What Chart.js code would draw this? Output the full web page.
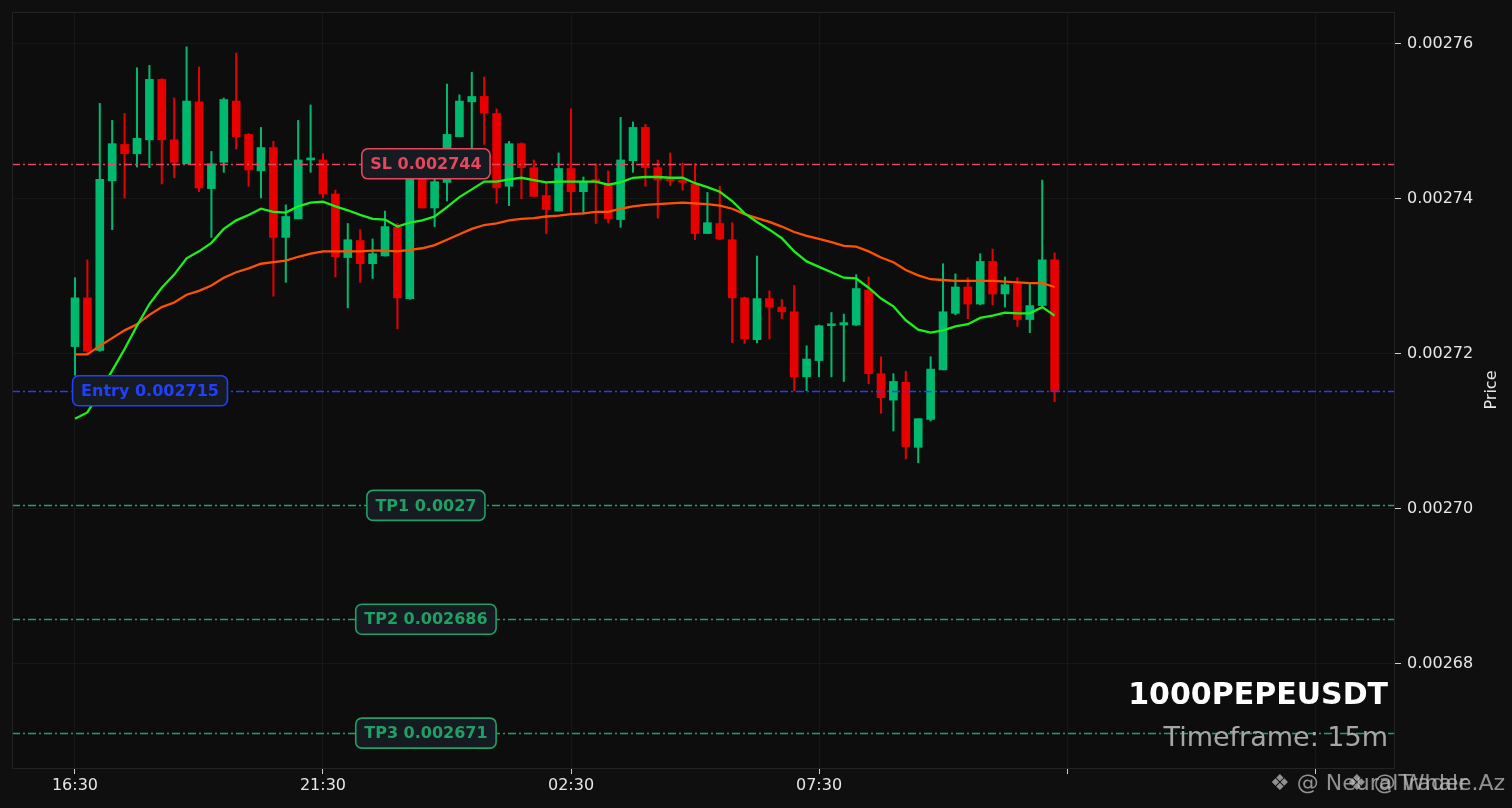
<!DOCTYPE html>
<html><head><meta charset="utf-8">
<script src="https://cdn.jsdelivr.net/npm/chart.js@4.4.0/dist/chart.umd.min.js"></script>
<style>html,body{margin:0;padding:0;background:#0f0f0f;overflow:hidden}#wrap{width:1512px;height:808px;position:relative}</style>
</head><body><div id="wrap"><canvas id="c" width="1512" height="808"></canvas></div>
<script>
// ---------------- DATA ----------------
const openP = [
0.0027209,0.0027272,0.0027204,0.0027423,0.0027470,0.0027458,0.0027476,0.0027554,0.0027476,0.0027445,
0.0027525,0.0027413,0.0027447,0.0027526,0.0027483,0.0027436,0.0027466,0.0027350,0.0027374,0.0027450,
0.0027450,0.0027406,0.0027324,0.0027346,0.0027316,0.0027326,0.0027363,0.0027271,0.0027435,0.0027388,
0.0027421,0.0027480,0.0027525,0.0027532,0.0027510,0.0027416,0.0027471,0.0027440,0.0027404,0.0027384,
0.0027439,0.0027409,0.0027423,0.0027419,0.0027373,0.0027449,0.0027492,0.0027440,0.0027424,0.0027423,
0.0027419,0.0027355,0.0027368,0.0027347,0.0027272,0.0027218,0.0027271,0.0027260,0.0027254,0.0027170,
0.0027191,0.0027236,0.0027237,0.0027237,0.0027282,0.0027174,0.0027140,0.0027163,0.0027079,0.0027115,
0.0027179,0.0027252,0.0027286,0.0027264,0.0027319,0.0027277,0.0027290,0.0027244,0.0027262,0.0027321];
const highP = [
0.0027298,0.0027321,0.0027523,0.0027501,0.0027510,0.0027569,0.0027572,0.0027555,0.0027530,0.0027596,
0.0027570,0.0027461,0.0027530,0.0027588,0.0027484,0.0027492,0.0027474,0.0027392,0.0027501,0.0027521,
0.0027458,0.0027411,0.0027368,0.0027360,0.0027348,0.0027384,0.0027368,0.0027443,0.0027450,0.0027430,
0.0027548,0.0027534,0.0027563,0.0027557,0.0027516,0.0027474,0.0027472,0.0027450,0.0027421,0.0027459,
0.0027516,0.0027428,0.0027445,0.0027436,0.0027505,0.0027499,0.0027496,0.0027450,0.0027459,0.0027446,
0.0027445,0.0027408,0.0027416,0.0027369,0.0027273,0.0027326,0.0027281,0.0027270,0.0027288,0.0027210,
0.0027237,0.0027253,0.0027251,0.0027302,0.0027299,0.0027196,0.0027174,0.0027177,0.0027116,0.0027196,
0.0027316,0.0027303,0.0027298,0.0027329,0.0027335,0.0027299,0.0027298,0.0027290,0.0027424,0.0027330];
const lowP = [
0.0027172,0.0027201,0.0027203,0.0027360,0.0027401,0.0027441,0.0027440,0.0027419,0.0027427,0.0027445,
0.0027409,0.0027350,0.0027434,0.0027464,0.0027416,0.0027401,0.0027274,0.0027292,0.0027374,0.0027434,
0.0027401,0.0027299,0.0027259,0.0027292,0.0027297,0.0027326,0.0027232,0.0027270,0.0027388,0.0027364,
0.0027397,0.0027480,0.0027464,0.0027470,0.0027394,0.0027391,0.0027400,0.0027403,0.0027355,0.0027384,
0.0027380,0.0027380,0.0027368,0.0027369,0.0027363,0.0027434,0.0027416,0.0027375,0.0027417,0.0027411,
0.0027347,0.0027355,0.0027347,0.0027214,0.0027213,0.0027214,0.0027219,0.0027245,0.0027152,0.0027152,
0.0027170,0.0027170,0.0027164,0.0027236,0.0027161,0.0027123,0.0027100,0.0027064,0.0027059,0.0027113,
0.0027179,0.0027250,0.0027245,0.0027263,0.0027263,0.0027260,0.0027235,0.0027227,0.0027262,0.0027138];
const closeP = [
0.0027272,0.0027203,0.0027425,0.0027471,0.0027458,0.0027478,0.0027554,0.0027476,0.0027447,0.0027526,
0.0027414,0.0027445,0.0027528,0.0027480,0.0027437,0.0027466,0.0027350,0.0027377,0.0027450,0.0027451,
0.0027406,0.0027325,0.0027347,0.0027316,0.0027329,0.0027364,0.0027272,0.0027430,0.0027388,0.0027422,
0.0027483,0.0027526,0.0027532,0.0027511,0.0027414,0.0027471,0.0027440,0.0027403,0.0027386,0.0027439,
0.0027409,0.0027422,0.0027422,0.0027374,0.0027450,0.0027492,0.0027440,0.0027424,0.0027423,0.0027421,
0.0027355,0.0027369,0.0027348,0.0027272,0.0027219,0.0027271,0.0027260,0.0027254,0.0027170,0.0027193,
0.0027236,0.0027238,0.0027240,0.0027284,0.0027174,0.0027143,0.0027164,0.0027080,0.0027116,0.0027180,
0.0027254,0.0027286,0.0027264,0.0027319,0.0027277,0.0027289,0.0027244,0.0027262,0.0027321,0.0027151];
const emaFast = [
0.0027116,0.0027124,0.0027150,0.0027178,0.0027206,0.0027236,0.0027264,0.0027285,0.0027302,0.0027323,
0.0027332,0.0027343,0.0027361,0.0027372,0.0027379,0.0027387,0.0027383,0.0027382,0.0027390,0.0027395,
0.0027396,0.0027390,0.0027385,0.0027379,0.0027374,0.0027373,0.0027364,0.0027369,0.0027372,0.0027377,
0.0027389,0.0027402,0.0027412,0.0027422,0.0027422,0.0027425,0.0027427,0.0027424,0.0027421,0.0027422,
0.0027422,0.0027422,0.0027422,0.0027418,0.0027421,0.0027427,0.0027428,0.0027428,0.0027427,0.0027427,
0.0027420,0.0027415,0.0027409,0.0027397,0.0027381,0.0027370,0.0027360,0.0027349,0.0027332,0.0027319,
0.0027312,0.0027305,0.0027298,0.0027297,0.0027285,0.0027271,0.0027261,0.0027243,0.0027231,0.0027227,
0.0027230,0.0027235,0.0027238,0.0027246,0.0027249,0.0027253,0.0027252,0.0027252,0.0027260,0.0027249];
const emaSlow = [
0.0027199,0.0027199,0.0027210,0.0027220,0.0027230,0.0027238,0.0027250,0.0027260,0.0027266,0.0027276,
0.0027281,0.0027288,0.0027298,0.0027305,0.0027310,0.0027316,0.0027318,0.0027320,0.0027325,0.0027329,
0.0027332,0.0027332,0.0027332,0.0027332,0.0027333,0.0027333,0.0027332,0.0027334,0.0027336,0.0027340,
0.0027347,0.0027354,0.0027361,0.0027366,0.0027368,0.0027372,0.0027374,0.0027375,0.0027377,0.0027378,
0.0027380,0.0027381,0.0027383,0.0027383,0.0027387,0.0027390,0.0027392,0.0027393,0.0027394,0.0027395,
0.0027394,0.0027393,0.0027391,0.0027387,0.0027380,0.0027375,0.0027370,0.0027364,0.0027357,0.0027352,
0.0027348,0.0027344,0.0027339,0.0027338,0.0027332,0.0027324,0.0027318,0.0027308,0.0027301,0.0027296,
0.0027295,0.0027294,0.0027294,0.0027294,0.0027294,0.0027293,0.0027292,0.0027291,0.0027291,0.0027286];
const xTickPos = [0, 20, 40, 60, 80, 100];
const xTickLabels = ['16:30', '21:30', '02:30', '07:30', '', ''];
const yTickValues = [0.00268, 0.00270, 0.00272, 0.00274, 0.00276];
const levelValues = [0.0027445, 0.0027152, 0.0027004, 0.0026857, 0.0026710];
const levelTexts = ['SL 0.002744', 'Entry 0.002715', 'TP1 0.0027', 'TP2 0.002686', 'TP3 0.002671'];
const symbolText = '1000PEPEUSDT';
const timeframeText = 'Timeframe: 15m';
const watermarks = ['\u2756 @ NeuralTrader', '\u2756 @ Whale.Az'];
const yTitle = 'Price';

// ---------------- STYLE ----------------
const UP = '#00b86e', DOWN = '#e60000';
const levelColors = ['#e4485f', '#2040ff', '#20a064', '#20a064', '#20a064'];
const levelLabelX = [28.3, 6.05, 28.3, 28.3, 28.3];
const X_MIN = -5.08, X_MAX = 106.45, Y_MIN = 0.0026665, Y_MAX = 0.0027641;
const FONT = '"DejaVu Sans", "Noto Sans", sans-serif';

const idx = openP.map((_, i) => i);
const candleColor = c => closeP[c.dataIndex] >= openP[c.dataIndex] ? UP : DOWN;

const decor = {
  id: 'decor',
  beforeDraw(chart) {
    const {ctx, chartArea: a} = chart;
    ctx.save();
    ctx.fillStyle = '#0f0f0f';
    ctx.fillRect(0, 0, chart.width, chart.height);
    ctx.fillStyle = '#0d0d0d';
    ctx.fillRect(a.left, a.top, a.right - a.left, a.bottom - a.top);
    ctx.restore();
  },
  afterDatasetsDraw(chart) {
    const {ctx, chartArea: a, scales: {x, y}} = chart;
    ctx.save();
    ctx.beginPath(); ctx.rect(a.left, a.top, a.right - a.left, a.bottom - a.top); ctx.clip();
    levelValues.forEach((v, k) => {
      const py = Math.round(y.getPixelForValue(v)) + 0.5;
      ctx.beginPath();
      ctx.strokeStyle = levelColors[k];
      ctx.lineWidth = 1.6;
      ctx.setLineDash([8, 3, 2, 3]);
      ctx.moveTo(a.left, py); ctx.lineTo(a.right, py);
      ctx.stroke();
    });
    ctx.setLineDash([]);
    ctx.font = 'bold 16px ' + FONT;
    ctx.textAlign = 'center'; ctx.textBaseline = 'middle';
    levelValues.forEach((v, k) => {
      const py = y.getPixelForValue(v);
      const px = x.getPixelForValue(levelLabelX[k]);
      const tw = ctx.measureText(levelTexts[k]).width;
      const w = tw + 17, h = 30;
      ctx.beginPath();
      ctx.roundRect(px - w / 2, py - h / 2, w, h, 6);
      ctx.fillStyle = '#161a21';
      ctx.fill();
      ctx.lineWidth = 1.6;
      ctx.strokeStyle = levelColors[k];
      ctx.stroke();
      ctx.fillStyle = levelColors[k];
      ctx.fillText(levelTexts[k], px, py + 1);
    });
    ctx.restore();
    ctx.save();
    ctx.strokeStyle = '#232326';
    ctx.lineWidth = 1;
    ctx.strokeRect(a.left + 0.5, a.top + 0.5, a.right - a.left - 1, a.bottom - a.top);
    ctx.restore();
  },
  afterDraw(chart) {
    const {ctx, chartArea: a} = chart;
    ctx.save();
    ctx.textAlign = 'right'; ctx.textBaseline = 'alphabetic';
    ctx.fillStyle = '#ffffff';
    ctx.font = 'bold 30px ' + FONT;
    ctx.fillText(symbolText, 1388, 704);
    ctx.fillStyle = '#a6a6a6';
    ctx.font = '27px ' + FONT;
    ctx.fillText(timeframeText, 1388, 746);
    ctx.textAlign = 'left';
    ctx.font = '22px ' + FONT;
    ctx.fillStyle = 'rgba(190,190,190,0.75)';
    ctx.fillText(watermarks[0], 1270, 790);
    ctx.fillText(watermarks[1], 1347, 790);
    ctx.translate(1492, (a.top + a.bottom) / 2);
    ctx.rotate(-Math.PI / 2);
    ctx.textAlign = 'center'; ctx.textBaseline = 'middle';
    ctx.fillStyle = '#e6e6e6';
    ctx.font = '16px ' + FONT;
    ctx.fillText(yTitle, 0, 0);
    ctx.restore();
  }
};

new Chart(document.getElementById('c'), {
  type: 'bar',
  data: {
    datasets: [
      { type: 'line', order: 0, data: idx.map(i => ({x: i, y: emaFast[i]})), borderColor: '#1cf01c', borderWidth: 2.3, pointRadius: 0, tension: 0 },
      { type: 'line', order: 1, data: idx.map(i => ({x: i, y: emaSlow[i]})), borderColor: '#ff5200', borderWidth: 2.3, pointRadius: 0, tension: 0 },
      { type: 'bar', order: 2, grouped: false, data: idx.map(i => ({x: i, y: [openP[i], closeP[i]]})), backgroundColor: candleColor, barThickness: 8, minBarLength: 2, borderWidth: 0 },
      { type: 'bar', order: 3, grouped: false, data: idx.map(i => ({x: i, y: [lowP[i], highP[i]]})), backgroundColor: candleColor, barThickness: 1.4, borderWidth: 0 }
    ]
  },
  options: {
    responsive: false, animation: false,
    layout: {padding: {left: 12, top: 12, right: 0, bottom: 0}},
    plugins: {legend: {display: false}, tooltip: {enabled: false}},
    scales: {
      x: {
        type: 'linear', min: X_MIN, max: X_MAX, offset: false,
        afterBuildTicks: s => { s.ticks = xTickPos.map(v => ({value: v})); },
        afterFit: s => { s.height = 40; },
        ticks: { autoSkip: false, maxRotation: 0, color: '#e6e6e6', font: {family: FONT, size: 16}, padding: 2,
          callback: v => { const k = xTickPos.indexOf(v); return k >= 0 ? xTickLabels[k] : ''; } },
        grid: { offset: false, color: 'rgba(255,255,255,0.045)', tickColor: '#d0d0d0', tickLength: 6 },
        border: {display: false}
      },
      y: {
        position: 'right', min: Y_MIN, max: Y_MAX,
        afterBuildTicks: s => { s.ticks = yTickValues.map(v => ({value: v})); },
        afterFit: s => { s.width = 117; },
        ticks: { color: '#e6e6e6', font: {family: FONT, size: 16, lineHeight: 0.7}, padding: 6,
          callback: v => v.toFixed(5) },
        grid: { color: 'rgba(255,255,255,0.045)', tickColor: '#d0d0d0', tickLength: 6 },
        border: {display: false}
      }
    }
  },
  plugins: [decor]
});
</script></body></html>
